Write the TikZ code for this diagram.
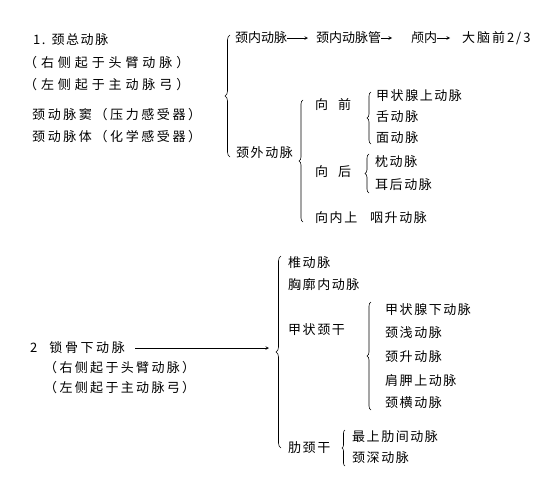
\documentclass[tikz,border=0pt]{standalone}
\usepackage{fontspec}
\setmainfont{Noto Sans CJK SC}
\usetikzlibrary{arrows, positioning, decorations.pathreplacing}
\tikzset{
    lbl/.style={
        anchor=west,
        inner sep=0pt,
        font=\fontsize{13}{15}\selectfont\addfontfeature{LetterSpace=12},
    },
    lblwide/.style={
        lbl,
        font=\fontsize{13}{15}\selectfont\addfontfeature{LetterSpace=#1},
    },
    lblwide/.default=25,
    lblplain/.style={
        lbl,
        font=\fontsize{13}{15}\selectfont,
    },
    brc/.style={
        decorate,
        decoration={brace, amplitude=#1},
        line width=0.6pt,
    },
    brc/.default=4pt,
    arr/.style={
        ->,
        >=stealth,
        line width=0.6pt,
    }
}
\begin{document}
\begin{tikzpicture}[x=1pt, y=-1pt]

\useasboundingbox (0,0) rectangle (555,482);

% part 1
\node[lbl] (common) at (33,40) {1.\hspace{6pt}颈总动脉};
\node[lblwide=30] (rsideA) at (24,63) {（右侧起于头臂动脉）};
\node[lblwide=30] (lsideA) at (24,85) {（左侧起于主动脉弓）};
\node[lblwide=20] (sinus) at (32,115) {颈动脉窦（压力感受器）};
\node[lblwide=20] (body) at (32,137) {颈动脉体（化学感受器）};

\draw[brc=5pt] (230,157) -- (230,35);

\node[lblplain] (ica) at (235,38) {颈内动脉};
\node[lblplain] (canal) at (316,38) {颈内动脉管};
\node[lblplain] (cranial) at (411,38) {颅内};
\node[lblwide=15] (brain) at (462,38) {大脑前2/3};
\draw[arr, shorten >=8pt] (ica) -- (canal);
\draw[arr, shorten >=19pt] (canal) -- (cranial);
\draw[arr, shorten >=12pt] (cranial) -- (brain);

\node[lbl] (eca) at (236,153) {颈外动脉};

\draw[brc] (303,222) -- (303,100);

\node[lbl] (fwd) at (315,105) {向\hspace{10pt}前};
\draw[brc] (371,144) -- (371,92);
\node[lbl] (supthy) at (376,96) {甲状腺上动脉};
\node[lbl] (lingual) at (376,117) {舌动脉};
\node[lbl] (facial) at (376,138) {面动脉};

\node[lbl] (back) at (315,172) {向\hspace{10pt}后};
\draw[brc] (369,193) -- (369,154);
\node[lbl] (occip) at (375,162) {枕动脉};
\node[lbl] (postaur) at (375,185) {耳后动脉};

\node[lbl] (upin) at (315,218) {向内上};
\node[lbl] (ascph) at (370,218) {咽升动脉};

% part 2
\node[lblwide=20] (subcl) at (30,348) {2\hspace{12pt}锁骨下动脉};
\node[lblwide=18] (rsideB) at (44,368) {（右侧起于头臂动脉）};
\node[lblwide=18] (lsideB) at (44,388) {（左侧起于主动脉弓）};

\coordinate (tipB) at (269,348);
\draw[arr] ([xshift=10pt]subcl.east) -- (tipB);

\draw[brc=5pt] (281,448) -- (281,256);

\node[lbl] (vert) at (288,263) {椎动脉};
\node[lbl] (intth) at (288,285) {胸廓内动脉};
\node[lbl] (thytrunk) at (288,330) {甲状颈干};

\draw[brc] (371,410) -- (371,302);
\node[lbl] (infthy) at (385,310) {甲状腺下动脉};
\node[lbl] (supcerv) at (385,333) {颈浅动脉};
\node[lbl] (asccerv) at (385,357) {颈升动脉};
\node[lbl] (suprasc) at (385,380) {肩胛上动脉};
\node[lbl] (transcerv) at (385,403) {颈横动脉};

\node[lbl] (costtrunk) at (288,448) {肋颈干};
\draw[brc=3pt] (345,466) -- (345,430);
\node[lbl] (supint) at (352,437) {最上肋间动脉};
\node[lbl] (deepcerv) at (352,458) {颈深动脉};

\end{tikzpicture}
\end{document}
